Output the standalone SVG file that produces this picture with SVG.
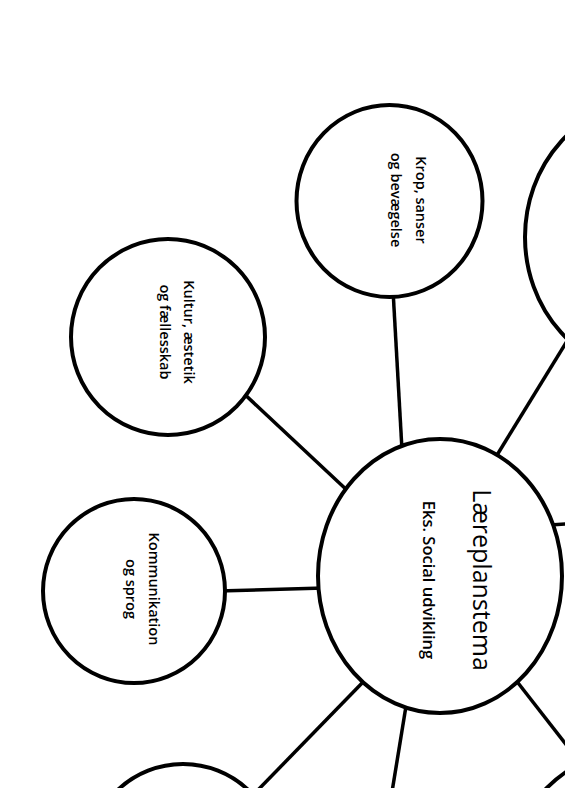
<svg xmlns="http://www.w3.org/2000/svg" width="565" height="788" viewBox="0 0 565 788">
<style>
.node{fill:#fff;stroke:#000;stroke-width:4}
.conn{stroke:#000;stroke-width:3.5;fill:none;stroke-linecap:butt}
.t{font-family:"Open Sans","Liberation Sans",Arial,sans-serif;fill:#000;text-anchor:middle}
.s{font-size:14.5px;font-weight:600}
</style>
<rect width="565" height="788" fill="#fff"/>
<g id="connectors">
<line class="conn" x1="393" y1="290" x2="402" y2="450"/>
<line class="conn" x1="572" y1="333" x2="494" y2="460"/>
<line class="conn" x1="240" y1="390" x2="350" y2="493"/>
<line class="conn" x1="218" y1="591" x2="324" y2="588"/>
<line class="conn" x1="550" y1="525" x2="566" y2="524"/>
<line class="conn" x1="366" y1="679" x2="256" y2="792"/>
<line class="conn" x1="407" y1="700" x2="392" y2="792"/>
<line class="conn" x1="515" y1="679" x2="572" y2="752"/>
</g>
<g id="node-right"><ellipse class="node" cx="648" cy="237" rx="123" ry="135"/></g>
<g id="node-bottom-left"><ellipse class="node" cx="183" cy="859" rx="95" ry="95"/></g>
<g id="node-bottom-right"><ellipse class="node" cx="640" cy="880" rx="131" ry="131"/></g>
<g id="node-krop">
<ellipse class="node" cx="389.5" cy="201" rx="93" ry="96"/>
<text class="t s" transform="translate(416,200) rotate(90)"><tspan x="0" y="0">Krop, sanser</tspan><tspan x="0" y="25">og bevægelse</tspan></text>
</g>
<g id="node-kultur">
<ellipse class="node" cx="168" cy="337" rx="97" ry="98"/>
<text class="t s" transform="translate(184,332) rotate(90)"><tspan x="0" y="0">Kultur, æstetik</tspan><tspan x="0" y="24">og fællesskab</tspan></text>
</g>
<g id="node-kommunikation">
<ellipse class="node" cx="134" cy="591" rx="91" ry="92"/>
<text class="t s" transform="translate(149,589) rotate(90)"><tspan x="0" y="0">Kommunikation</tspan><tspan x="0" y="23">og sprog</tspan></text>
</g>
<g id="node-center">
<ellipse class="node" cx="440" cy="576" rx="122" ry="137"/>
<text class="t" transform="translate(473,580) rotate(90)"><tspan x="0" y="0" font-size="25">Læreplanstema</tspan><tspan x="0" y="50" font-size="16.5" font-weight="600">Eks. Social udvikling</tspan></text>
</g>
</svg>
